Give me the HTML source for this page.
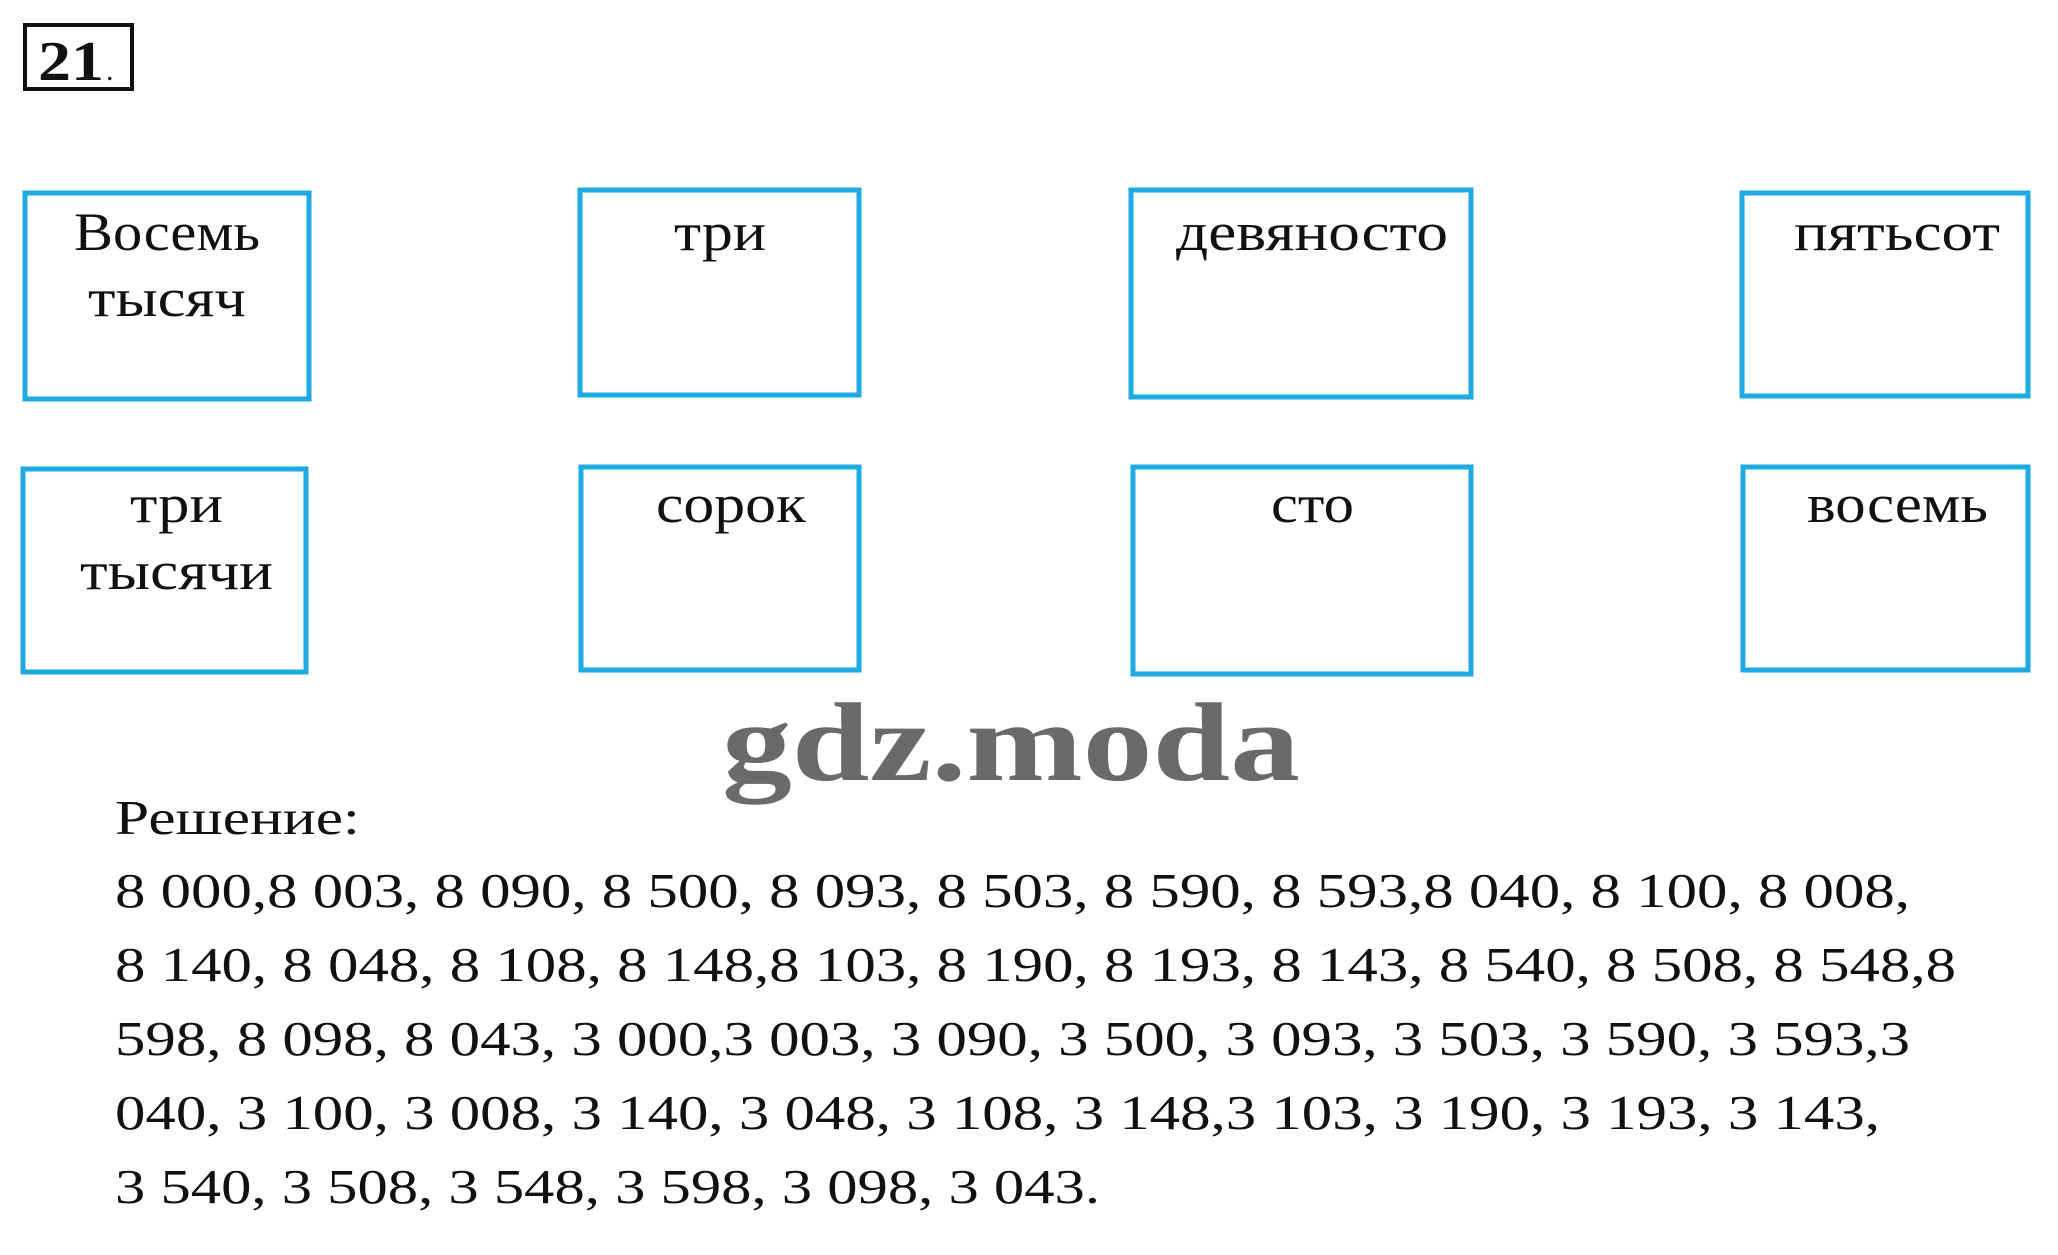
<!DOCTYPE html>
<html><head><meta charset="utf-8"><style>
html,body{margin:0;padding:0;background:#fff;}
svg{display:block;}
text{font-family:"Liberation Serif","DejaVu Serif",serif;fill:#111;}
</style></head><body>
<svg width="2058" height="1255" viewBox="0 0 2058 1255" xmlns="http://www.w3.org/2000/svg">
<rect x="25" y="25" width="107" height="64" fill="none" stroke="#111" stroke-width="4"/>
<text x="38" y="80" font-size="56" font-weight="bold" textLength="66" lengthAdjust="spacingAndGlyphs">21</text>
<text x="106" y="80" font-size="30">.</text>
<g fill="none" stroke="#1fa9e1" stroke-width="5">
<rect x="25" y="193" width="284" height="206"/>
<rect x="580" y="190" width="279" height="205"/>
<rect x="1131" y="190" width="340" height="207"/>
<rect x="1742" y="193" width="286" height="203"/>
<rect x="23" y="469" width="283" height="203"/>
<rect x="581" y="467" width="278" height="203"/>
<rect x="1133" y="467" width="338" height="207"/>
<rect x="1743" y="467" width="285" height="203"/>
</g>
<g font-size="54" lengthAdjust="spacingAndGlyphs">
<text x="74" y="250" textLength="186" lengthAdjust="spacingAndGlyphs">Восемь</text>
<text x="88" y="316" textLength="158" lengthAdjust="spacingAndGlyphs">тысяч</text>
<text x="674" y="250" textLength="92" lengthAdjust="spacingAndGlyphs">три</text>
<text x="1176" y="250" textLength="272" lengthAdjust="spacingAndGlyphs">девяносто</text>
<text x="1794" y="250" textLength="206" lengthAdjust="spacingAndGlyphs">пятьсот</text>
<text x="130" y="522" textLength="93" lengthAdjust="spacingAndGlyphs">три</text>
<text x="80" y="589" textLength="193" lengthAdjust="spacingAndGlyphs">тысячи</text>
<text x="656" y="522" textLength="150" lengthAdjust="spacingAndGlyphs">сорок</text>
<text x="1271" y="522" textLength="83" lengthAdjust="spacingAndGlyphs">сто</text>
<text x="1807" y="522" textLength="181" lengthAdjust="spacingAndGlyphs">восемь</text>
</g>
<text x="722" y="780" font-size="112" font-weight="bold" style="fill:#6a6a6a" textLength="578" lengthAdjust="spacingAndGlyphs">gdz.moda</text>
<g font-size="49">
<text x="115" y="834" textLength="245" lengthAdjust="spacingAndGlyphs">Решение:</text>
<text x="115" y="907" textLength="1795" lengthAdjust="spacingAndGlyphs">8 000,8 003, 8 090, 8 500, 8 093, 8 503, 8 590, 8 593,8 040, 8 100, 8 008,</text>
<text x="115" y="981" textLength="1841" lengthAdjust="spacingAndGlyphs">8 140, 8 048, 8 108, 8 148,8 103, 8 190, 8 193, 8 143, 8 540, 8 508, 8 548,8</text>
<text x="115" y="1055" textLength="1795" lengthAdjust="spacingAndGlyphs">598, 8 098, 8 043, 3 000,3 003, 3 090, 3 500, 3 093, 3 503, 3 590, 3 593,3</text>
<text x="115" y="1129" textLength="1765" lengthAdjust="spacingAndGlyphs">040, 3 100, 3 008, 3 140, 3 048, 3 108, 3 148,3 103, 3 190, 3 193, 3 143,</text>
<text x="115" y="1203" textLength="985" lengthAdjust="spacingAndGlyphs">3 540, 3 508, 3 548, 3 598, 3 098, 3 043.</text>
</g>
</svg>
</body></html>
